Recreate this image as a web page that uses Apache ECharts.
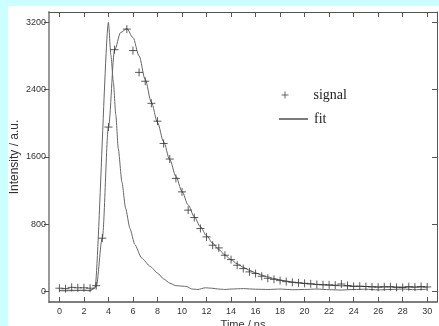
<!DOCTYPE html>
<html>
<head>
<meta charset="utf-8">
<script src="https://cdn.jsdelivr.net/npm/echarts@6/dist/echarts.min.js"></script>
<style>
  html, body { margin: 0; padding: 0; background: #ccffff; width: 439px; height: 326px; overflow: hidden; }
  #chart { position: absolute; left: 8px; top: 6px; width: 431px; height: 320px; background: #ffffff; }
</style>
</head>
<body>
<div id="chart"></div>
<script>
// ---- data ----
const xTicks = [0, 2, 4, 6, 8, 10, 12, 14, 16, 18, 20, 22, 24, 26, 28, 30];
const yTicks = [0, 800, 1600, 2400, 3200];

const signalTime = [0, 0.5, 1, 1.5, 2, 2.5, 3, 3.5, 4, 4.5, 5.5, 6, 6.5, 7, 7.5, 8, 8.5, 9, 9.5, 10,
  10.5, 11, 11.5, 12, 12.5, 13, 13.5, 14, 14.5, 15, 15.5, 16, 16.5, 17, 17.5, 18, 18.5, 19, 19.5, 20,
  20.5, 21, 21.5, 22, 22.5, 23, 23.5, 24, 24.5, 25, 25.5, 26, 26.5, 27, 27.5, 28, 28.5, 29, 29.5, 30];
const signalValues = [40, 35, 50, 45, 45, 40, 70, 635, 1955, 2875, 3120, 2865, 2605, 2500, 2238, 2025, 1760, 1575, 1345, 1185,
  968, 880, 750, 650, 551, 519, 432, 380, 313, 273, 234, 214, 182, 158, 145, 130, 118, 110, 104, 98,
  92, 85, 82, 80, 76, 90, 72, 62, 64, 60, 55, 52, 56, 58, 50, 48, 58, 54, 60, 55];

const fitTime = [0, 0.5, 1, 1.5, 2, 2.5, 3, 3.5, 4, 4.5, 5, 5.5, 6, 6.5, 7, 7.5, 8, 8.5, 9, 9.5, 10,
  10.5, 11, 11.5, 12, 12.5, 13, 13.5, 14, 14.5, 15, 15.5, 16, 16.5, 17, 17.5, 18, 18.5, 19, 19.5, 20,
  21, 22, 23, 24, 25, 26, 27, 28, 29, 30];
const fitValues = [15, 15, 15, 15, 15, 15, 60, 640, 1955, 2870, 3080, 3125, 3020, 2800, 2520, 2250, 2010, 1780, 1570, 1370, 1190,
  1030, 890, 770, 665, 575, 500, 435, 378, 330, 288, 253, 222, 196, 174, 155, 139, 126, 114, 104, 96,
  84, 75, 68, 63, 60, 57, 55, 54, 53, 52];

const irfTime = [0, 0.5, 1, 1.5, 2, 2.5, 2.9, 4.0, 4.2, 4.4, 4.6, 4.8, 5.1, 5.4, 5.75, 6.15, 6.7, 7.4, 8.0, 8.5,
  9.0, 9.5, 10.0, 10.4, 10.8, 11.3, 11.9, 12.4, 13, 13.5, 14, 15, 16, 17, 18, 19, 20, 21, 22, 23,
  24, 25, 26, 27, 28, 29, 30];
const irfValues = [10, 8, 10, 12, 15, 10, 40, 3200, 2810, 2490, 2100, 1700, 1300, 990, 750, 560, 400, 300, 220, 150,
  100, 70, 65, 60, 30, 25, 45, 40, 30, 25, 30, 35, 28, 25, 30, 22, 25, 30, 22, 18,
  25, 28, 20, 25, 30, 22, 28];

const zip = (a, b) => a.map((v, i) => [v, b[i]]);

const axisColor = '#555';
const labelFont = { fontFamily: 'Liberation Sans', fontSize: 9, color: '#333', formatter: v => String(v) };

const chart = echarts.init(document.getElementById('chart'), null, { renderer: 'canvas' });
chart.setOption({
  animation: false,
  backgroundColor: 'transparent',
  grid: { left: 41, top: 6, right: 2, bottom: 24, containLabel: false, outerBoundsMode: 'none' },
  legend: [
    {
      data: ['signal'], left: 271, top: 81, padding: 0, orient: 'vertical',
      itemWidth: 29, itemHeight: 7, selectedMode: false,
      itemStyle: { color: 'none', borderColor: '#444', borderWidth: 1 },
      textStyle: { fontFamily: 'Liberation Serif', fontSize: 14, color: '#222', lineHeight: 16, padding: [0, 0, 0, 9] }
    },
    {
      data: [{ name: 'fit', icon: 'path://M0,0 L30,0 L30,1 L0,1 Z' }], left: 271, top: 105, padding: 0, orient: 'vertical',
      itemWidth: 29, itemHeight: 1.2, symbolKeepAspect: false, selectedMode: false,
      itemStyle: { color: '#222', borderWidth: 0 },
      textStyle: { fontFamily: 'Liberation Serif', fontSize: 14, color: '#222', lineHeight: 16, padding: [0, 0, 0, 1] }
    }
  ],
  xAxis: [
    {
      type: 'value', position: 'bottom', min: -0.85, max: 30.8,
      name: 'Time / ns', nameLocation: 'middle', nameGap: 17, nameMoveOverlap: false,
      nameTextStyle: { fontFamily: 'Liberation Sans', fontSize: 11, color: '#333' },
      axisLine: { show: true, onZero: false, lineStyle: { color: axisColor, width: 1.5 } },
      axisTick: { show: true, inside: true, length: 5, customValues: xTicks, lineStyle: { color: axisColor } },
      axisLabel: Object.assign({ customValues: xTicks, margin: 5 }, labelFont),
      splitLine: { show: false }
    },
    {
      type: 'value', position: 'top', min: -0.85, max: 30.8,
      axisLine: { show: true, onZero: false, lineStyle: { color: axisColor, width: 1 } },
      axisTick: { show: true, inside: true, length: 5, customValues: xTicks, lineStyle: { color: axisColor } },
      axisLabel: { show: false },
      splitLine: { show: false }
    }
  ],
  yAxis: [
    {
      type: 'value', position: 'left', min: -124, max: 3323,
      name: 'Intensity / a.u.', nameLocation: 'middle', nameGap: 28, nameMoveOverlap: false,
      nameTextStyle: { fontFamily: 'Liberation Sans', fontSize: 12, color: '#333' },
      axisLine: { show: true, onZero: false, lineStyle: { color: '#999', width: 2 } },
      axisTick: { show: true, inside: false, length: 5, customValues: yTicks, lineStyle: { color: axisColor } },
      axisLabel: Object.assign({ customValues: yTicks, margin: 3 }, labelFont),
      splitLine: { show: false }
    },
    {
      type: 'value', position: 'right', min: -124, max: 3323,
      axisLine: { show: true, onZero: false, lineStyle: { color: axisColor, width: 1 } },
      axisTick: { show: true, inside: true, length: 5, customValues: yTicks, lineStyle: { color: axisColor } },
      axisLabel: { show: false },
      splitLine: { show: false }
    }
  ],
  series: [
    {
      name: 'irf', type: 'line', xAxisIndex: 0, yAxisIndex: 0,
      data: zip(irfTime, irfValues), symbol: 'none', smooth: 0.2, smoothMonotone: 'x',
      lineStyle: { color: '#666', width: 1 }, z: 2
    },
    {
      name: 'fit', type: 'line', xAxisIndex: 0, yAxisIndex: 0,
      data: zip(fitTime, fitValues), symbol: 'none', smooth: 0.3, smoothMonotone: 'x',
      lineStyle: { color: '#666', width: 1 }, itemStyle: { color: '#222' }, z: 3
    },
    {
      name: 'signal', type: 'scatter', xAxisIndex: 0, yAxisIndex: 0,
      data: zip(signalTime, signalValues),
      symbol: 'path://M0,5 L10,5 M5,0 L5,10', symbolSize: 8,
      itemStyle: { color: 'none', borderColor: '#333', borderWidth: 1 }, z: 4
    }
  ]
});
</script>
</body>
</html>
